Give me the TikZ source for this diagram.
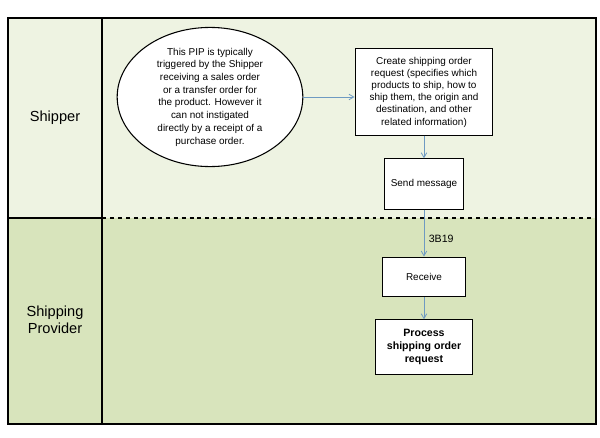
\documentclass[tikz,border=0pt]{standalone}
\usepackage{fontspec}
\setmainfont{Liberation Sans}
\usetikzlibrary{arrows,calc,shapes.geometric}
\definecolor{laneup}{HTML}{EEF3E2}
\definecolor{lanedown}{HTML}{D8E4BC}
\definecolor{flowblue}{HTML}{6E9AC2}
\tikzset{
%Define standard arrow tip
>=angle 60,
%Define styles for the boxes and the flow
step box/.style={draw, thick, fill=white, align=center, font=\fontsize{7.5}{9.2}\selectfont},
flow/.style={->, flowblue, semithick},
lane label/.style={font=\fontsize{11}{13}\selectfont, align=center},
}

\begin{document}
\begin{tikzpicture}[x=0.0265cm,y=-0.0265cm]
    \useasboundingbox (0,0) rectangle (600,437);
    \fill[white] (0,0) rectangle (600,437);
    % Lanes
    \fill[laneup] (8,18) rectangle (596,218);
    \fill[lanedown] (8,218) rectangle (596,424);
    \draw[thick] (8,18) rectangle (596,424);
    \draw[thick] (102,18) -- (102,424);
    \draw[thick, dashed] (102,218) -- (596,218);
    \draw[thick] (8,218) -- (102,218);
    \node[lane label] (shipper) at (55,118) {Shipper};
    \node[lane label] (provider) at (55,320) {Shipping\\Provider};

    % Steps
    \node[ellipse, draw, thick, fill=white, minimum width=140pt, minimum height=94pt,
          inner sep=0pt, align=center, font=\fontsize{7.5}{9.6}\selectfont]
      (trigger) at (210,97) {This PIP is typically\\triggered by the Shipper\\receiving a sales order\\or a transfer order for\\the product. However it\\can not instigated\\directly by a receipt of a\\purchase order.};
    \node[step box, minimum width=104pt, minimum height=65pt] (create) at (424,92)
      {Create shipping order\\request (specifies which\\products to ship, how to\\ship them, the origin and\\destination, and other\\related information)};
    \node[step box, minimum width=60pt, minimum height=38pt] (send) at (424,184) {Send message};
    \node[step box, minimum width=63pt, minimum height=30pt] (receive) at (424,277) {Receive};
    \node[step box, minimum width=73pt, minimum height=41pt, font=\bfseries\fontsize{8}{9.6}\selectfont]
      (process) at (424,347) {Process\\shipping order\\request};

    % Flow
    \draw[flow] (trigger) -- (trigger -| create.west);
    \draw[flow] (create) -- (send);
    \draw[flow] (send) -- node[right, black, pos=0.62, font=\fontsize{8}{9}\selectfont] {3B19} (receive);
    \draw[flow] (receive) -- (process);
\end{tikzpicture}
\end{document}
